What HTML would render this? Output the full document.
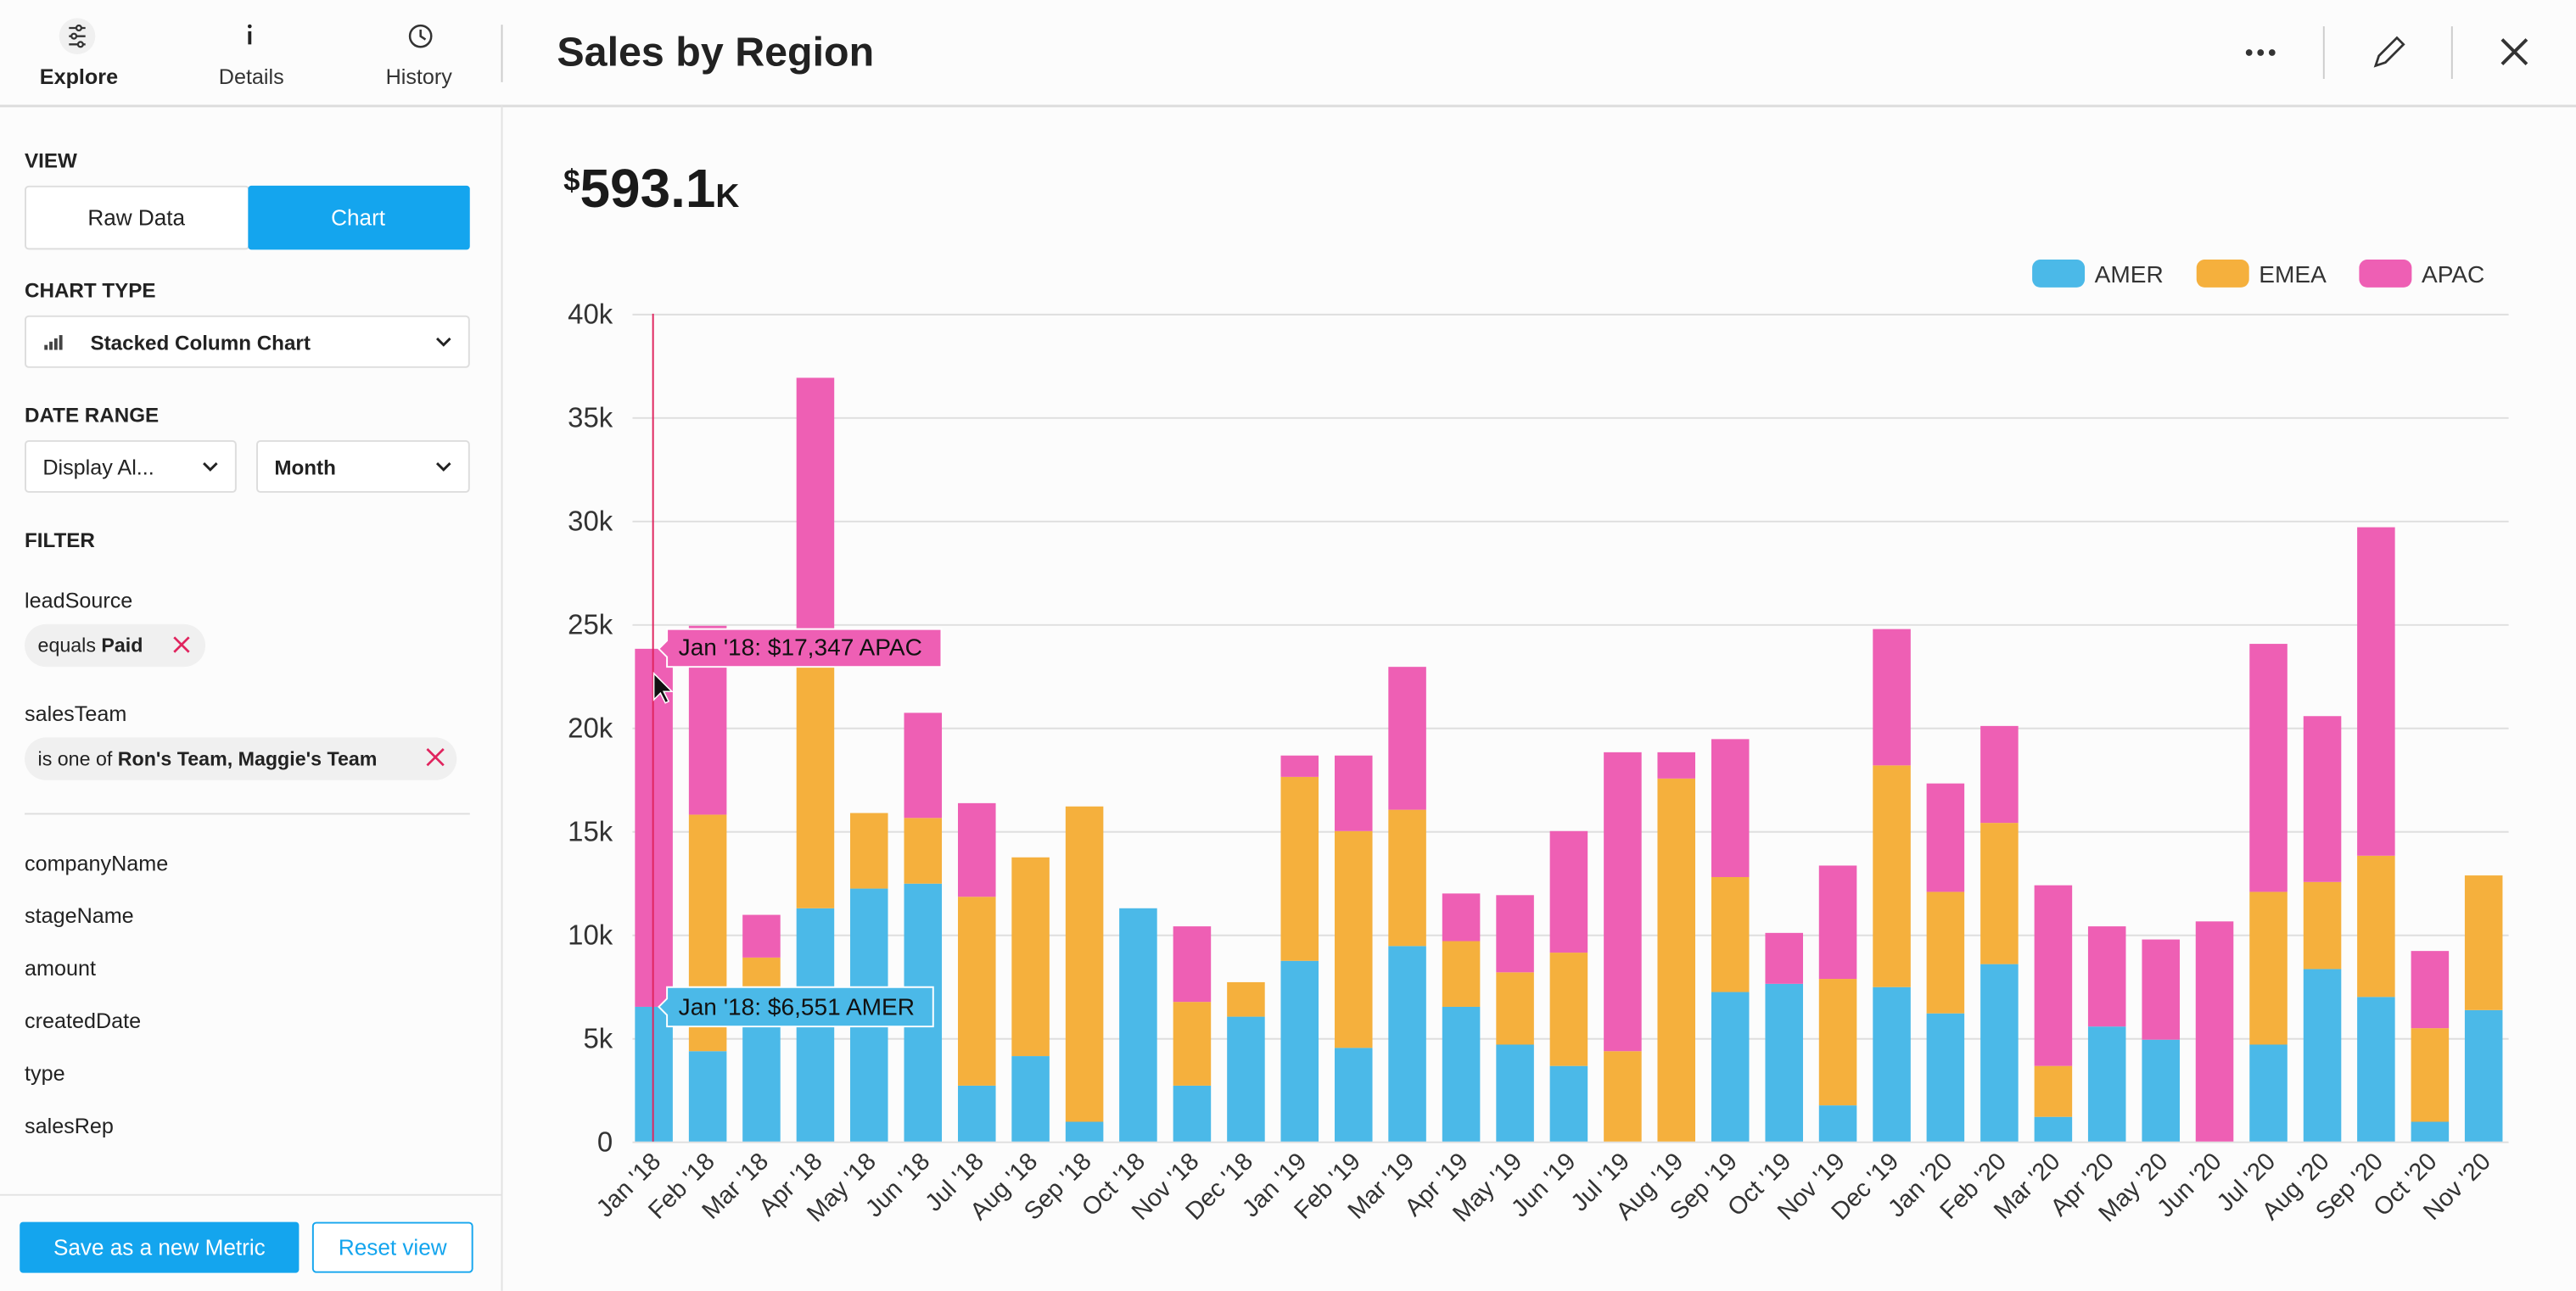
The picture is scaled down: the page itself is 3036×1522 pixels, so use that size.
<!DOCTYPE html>
<html><head><meta charset="utf-8"><style>
html,body{margin:0;padding:0;background:#fcfcfc;width:3036px;height:1522px;overflow:hidden}
svg{display:block;font-family:"Liberation Sans",sans-serif}
.a{fill:#4bb9e8}.e{fill:#f5b03d}.p{fill:#ee5fb4}
</style></head><body>
<svg width="3036" height="1522" viewBox="0 0 1568 786" xmlns="http://www.w3.org/2000/svg">
<rect width="1568" height="786" fill="#fcfcfc"/>
<line x1="0" y1="64.5" x2="1568" y2="64.5" stroke="#dcdcdc" stroke-width="1.5"/>
<line x1="305.5" y1="64" x2="305.5" y2="786" stroke="#e2e2e2"/>
<line x1="305.5" y1="15" x2="305.5" y2="50" stroke="#ccc"/>
<circle cx="47" cy="22" r="11" fill="#f0f0f0"/>
<g stroke="#333" stroke-width="1.2" fill="none"><line x1="42" y1="17" x2="52" y2="17"/><line x1="42" y1="22" x2="52" y2="22"/><line x1="42" y1="27" x2="52" y2="27"/><circle cx="48" cy="17" r="1.5" fill="#fff"/><circle cx="45" cy="22" r="1.5" fill="#fff"/><circle cx="49" cy="27" r="1.5" fill="#fff"/></g>
<text x="48" y="51" font-size="13" font-weight="bold" fill="#222" text-anchor="middle">Explore</text>
<rect x="151" y="19" width="2" height="8" fill="#222"/><circle cx="152" cy="16" r="1.2" fill="#222"/>
<text x="153" y="51" font-size="13" fill="#333" text-anchor="middle">Details</text>
<circle cx="256" cy="22" r="6.5" fill="none" stroke="#333" stroke-width="1.3"/><path d="M256 18v4l3 2" stroke="#333" stroke-width="1.3" fill="none"/>
<text x="255" y="51" font-size="13" fill="#333" text-anchor="middle">History</text>
<text x="339" y="40" font-size="25" font-weight="bold" fill="#222">Sales by Region</text>
<circle cx="1369" cy="32" r="2" fill="#333"/><circle cx="1376" cy="32" r="2" fill="#333"/><circle cx="1383" cy="32" r="2" fill="#333"/>
<line x1="1414.5" y1="16" x2="1414.5" y2="48" stroke="#ccc"/>
<path d="M1446 40l2-6 11-11 4 4-11 11z" fill="none" stroke="#333" stroke-width="1.4"/>
<line x1="1492.5" y1="16" x2="1492.5" y2="48" stroke="#ccc"/>
<path d="M1523 24l15 15M1538 24l-15 15" stroke="#333" stroke-width="2"/>
<g font-size="12.5" fill="#222">
<text x="15" y="102" font-weight="bold">VIEW</text>
<rect x="15.5" y="113.5" width="136" height="38" fill="#fff" stroke="#ddd" rx="2"/>
<text x="83" y="137" text-anchor="middle" font-size="13.5">Raw Data</text>
<rect x="151" y="113" width="135" height="39" fill="#14a5ee" rx="2"/>
<text x="218" y="137" text-anchor="middle" font-size="13.5" fill="#fff">Chart</text>
<text x="15" y="181" font-weight="bold">CHART TYPE</text>
<rect x="15.5" y="192.5" width="270" height="31" fill="#fff" stroke="#ddd" rx="2"/>
<g fill="#444"><rect x="27" y="210" width="2" height="3"/><rect x="30" y="208" width="2" height="5"/><rect x="33" y="206" width="2" height="7"/><rect x="36" y="204" width="2" height="9"/></g>
<text x="55" y="213" font-weight="bold" font-size="12.5">Stacked Column Chart</text>
<path d="M266 206l4 4 4-4" stroke="#222" stroke-width="1.5" fill="none"/>
<text x="15" y="257" font-weight="bold">DATE RANGE</text>
<rect x="15.5" y="268.5" width="128" height="31" fill="#fff" stroke="#ddd" rx="2"/>
<text x="26" y="289" font-size="13">Display Al...</text>
<path d="M124 282l4 4 4-4" stroke="#222" stroke-width="1.5" fill="none"/>
<rect x="156.5" y="268.5" width="129" height="31" fill="#fff" stroke="#ddd" rx="2"/>
<text x="167" y="289" font-weight="bold">Month</text>
<path d="M266 282l4 4 4-4" stroke="#222" stroke-width="1.5" fill="none"/>
<text x="15" y="333" font-weight="bold">FILTER</text>
<text x="15" y="370" font-size="13">leadSource</text>
<rect x="15" y="380" width="110" height="26" rx="13" fill="#f0f0f0"/>
<text x="23" y="397" font-size="12">equals <tspan font-weight="bold">Paid</tspan></text>
<path d="M106 388l9 9M115 388l-9 9" stroke="#e0245e" stroke-width="1.4"/>
<text x="15" y="439" font-size="13">salesTeam</text>
<rect x="15" y="449" width="263" height="26" rx="13" fill="#f0f0f0"/>
<text x="23" y="466" font-size="12">is one of <tspan font-weight="bold">Ron's Team, Maggie's Team</tspan></text>
<path d="M260 456l10 10M270 456l-10 10" stroke="#e0245e" stroke-width="1.4"/>
<line x1="15" y1="495.5" x2="286" y2="495.5" stroke="#ddd"/>
<text x="15" y="530" font-size="13">companyName</text>
<text x="15" y="562" font-size="13">stageName</text>
<text x="15" y="594" font-size="13">amount</text>
<text x="15" y="626" font-size="13">createdDate</text>
<text x="15" y="658" font-size="13">type</text>
<text x="15" y="690" font-size="13">salesRep</text>
</g>
<line x1="0" y1="727.5" x2="305" y2="727.5" stroke="#e2e2e2"/>
<rect x="12" y="744" width="170" height="31" rx="2" fill="#14a5ee"/>
<text x="97" y="764" font-size="13.5" fill="#fff" text-anchor="middle">Save as a new Metric</text>
<rect x="190.5" y="744.5" width="97" height="30" rx="2" fill="#fff" stroke="#14a5ee"/>
<text x="239" y="764" font-size="13.5" fill="#14a5ee" text-anchor="middle">Reset view</text>
<text x="343" y="126" font-weight="bold" fill="#1a1a1a"><tspan font-size="18" dy="-10">$</tspan><tspan font-size="33" dy="10">593.1</tspan><tspan font-size="20">K</tspan></text>
<rect x="1237" y="158" width="32" height="17" rx="5" fill="#4bb9e8"/><text x="1275" y="172" font-size="14.5" fill="#333">AMER</text>
<rect x="1337" y="158" width="32" height="17" rx="5" fill="#f5b03d"/><text x="1375" y="172" font-size="14.5" fill="#333">EMEA</text>
<rect x="1436" y="158" width="32" height="17" rx="5" fill="#ee5fb4"/><text x="1474" y="172" font-size="14.5" fill="#333">APAC</text>
<g stroke="#dedede" stroke-width="1">
<line x1="385" y1="191.5" x2="1527" y2="191.5"/><line x1="385" y1="254.5" x2="1527" y2="254.5"/><line x1="385" y1="317.5" x2="1527" y2="317.5"/><line x1="385" y1="380.5" x2="1527" y2="380.5"/><line x1="385" y1="443.5" x2="1527" y2="443.5"/><line x1="385" y1="506.5" x2="1527" y2="506.5"/><line x1="385" y1="569.5" x2="1527" y2="569.5"/><line x1="385" y1="632.5" x2="1527" y2="632.5"/><line x1="385" y1="695.5" x2="1527" y2="695.5"/>
</g>
<g font-size="17" fill="#333" text-anchor="end">
<text x="373" y="197">40k</text><text x="373" y="260">35k</text><text x="373" y="323">30k</text><text x="373" y="386">25k</text><text x="373" y="449">20k</text><text x="373" y="512">15k</text><text x="373" y="575">10k</text><text x="373" y="638">5k</text><text x="373" y="701">0</text>
</g>
<g>
<rect class="a" x="386.5" y="613" width="23" height="82"/><rect class="p" x="386.5" y="395" width="23" height="218"/>
<rect class="a" x="419.3" y="640" width="23" height="55"/><rect class="e" x="419.3" y="496" width="23" height="144"/><rect class="p" x="419.3" y="381" width="23" height="115"/>
<rect class="a" x="452" y="610" width="23" height="85"/><rect class="e" x="452" y="583" width="23" height="27"/><rect class="p" x="452" y="557" width="23" height="26"/>
<rect class="a" x="484.8" y="553" width="23" height="142"/><rect class="e" x="484.8" y="405" width="23" height="148"/><rect class="p" x="484.8" y="230" width="23" height="175"/>
<rect class="a" x="517.5" y="541" width="23" height="154"/><rect class="e" x="517.5" y="495" width="23" height="46"/>
<rect class="a" x="550.3" y="538" width="23" height="157"/><rect class="e" x="550.3" y="498" width="23" height="40"/><rect class="p" x="550.3" y="434" width="23" height="64"/>
<rect class="a" x="583.1" y="661" width="23" height="34"/><rect class="e" x="583.1" y="546" width="23" height="115"/><rect class="p" x="583.1" y="489" width="23" height="57"/>
<rect class="a" x="615.8" y="643" width="23" height="52"/><rect class="e" x="615.8" y="522" width="23" height="121"/>
<rect class="a" x="648.6" y="683" width="23" height="12"/><rect class="e" x="648.6" y="491" width="23" height="192"/>
<rect class="a" x="681.3" y="553" width="23" height="142"/>
<rect class="a" x="714.1" y="661" width="23" height="34"/><rect class="e" x="714.1" y="610" width="23" height="51"/><rect class="p" x="714.1" y="564" width="23" height="46"/>
<rect class="a" x="746.9" y="619" width="23" height="76"/><rect class="e" x="746.9" y="598" width="23" height="21"/>
<rect class="a" x="779.6" y="585" width="23" height="110"/><rect class="e" x="779.6" y="473" width="23" height="112"/><rect class="p" x="779.6" y="460" width="23" height="13"/>
<rect class="a" x="812.4" y="638" width="23" height="57"/><rect class="e" x="812.4" y="506" width="23" height="132"/><rect class="p" x="812.4" y="460" width="23" height="46"/>
<rect class="a" x="845.1" y="576" width="23" height="119"/><rect class="e" x="845.1" y="493" width="23" height="83"/><rect class="p" x="845.1" y="406" width="23" height="87"/>
<rect class="a" x="877.9" y="613" width="23" height="82"/><rect class="e" x="877.9" y="573" width="23" height="40"/><rect class="p" x="877.9" y="544" width="23" height="29"/>
<rect class="a" x="910.7" y="636" width="23" height="59"/><rect class="e" x="910.7" y="592" width="23" height="44"/><rect class="p" x="910.7" y="545" width="23" height="47"/>
<rect class="a" x="943.4" y="649" width="23" height="46"/><rect class="e" x="943.4" y="580" width="23" height="69"/><rect class="p" x="943.4" y="506" width="23" height="74"/>
<rect class="e" x="976.2" y="640" width="23" height="55"/><rect class="p" x="976.2" y="458" width="23" height="182"/>
<rect class="e" x="1008.9" y="474" width="23" height="221"/><rect class="p" x="1008.9" y="458" width="23" height="16"/>
<rect class="a" x="1041.7" y="604" width="23" height="91"/><rect class="e" x="1041.7" y="534" width="23" height="70"/><rect class="p" x="1041.7" y="450" width="23" height="84"/>
<rect class="a" x="1074.5" y="599" width="23" height="96"/><rect class="p" x="1074.5" y="568" width="23" height="31"/>
<rect class="a" x="1107.2" y="673" width="23" height="22"/><rect class="e" x="1107.2" y="596" width="23" height="77"/><rect class="p" x="1107.2" y="527" width="23" height="69"/>
<rect class="a" x="1140" y="601" width="23" height="94"/><rect class="e" x="1140" y="466" width="23" height="135"/><rect class="p" x="1140" y="383" width="23" height="83"/>
<rect class="a" x="1172.7" y="617" width="23" height="78"/><rect class="e" x="1172.7" y="543" width="23" height="74"/><rect class="p" x="1172.7" y="477" width="23" height="66"/>
<rect class="a" x="1205.5" y="587" width="23" height="108"/><rect class="e" x="1205.5" y="501" width="23" height="86"/><rect class="p" x="1205.5" y="442" width="23" height="59"/>
<rect class="a" x="1238.3" y="680" width="23" height="15"/><rect class="e" x="1238.3" y="649" width="23" height="31"/><rect class="p" x="1238.3" y="539" width="23" height="110"/>
<rect class="a" x="1271" y="625" width="23" height="70"/><rect class="p" x="1271" y="564" width="23" height="61"/>
<rect class="a" x="1303.8" y="633" width="23" height="62"/><rect class="p" x="1303.8" y="572" width="23" height="61"/>
<rect class="p" x="1336.5" y="561" width="23" height="134"/>
<rect class="a" x="1369.3" y="636" width="23" height="59"/><rect class="e" x="1369.3" y="543" width="23" height="93"/><rect class="p" x="1369.3" y="392" width="23" height="151"/>
<rect class="a" x="1402.1" y="590" width="23" height="105"/><rect class="e" x="1402.1" y="537" width="23" height="53"/><rect class="p" x="1402.1" y="436" width="23" height="101"/>
<rect class="a" x="1434.8" y="607" width="23" height="88"/><rect class="e" x="1434.8" y="521" width="23" height="86"/><rect class="p" x="1434.8" y="321" width="23" height="200"/>
<rect class="a" x="1467.6" y="683" width="23" height="12"/><rect class="e" x="1467.6" y="626" width="23" height="57"/><rect class="p" x="1467.6" y="579" width="23" height="47"/>
<rect class="a" x="1500.3" y="615" width="23" height="80"/><rect class="e" x="1500.3" y="533" width="23" height="82"/>
</g>
<g font-size="15" fill="#333" text-anchor="end">
<text transform="translate(403,708) rotate(-45)">Jan '18</text>
<text transform="translate(435.8,708) rotate(-45)">Feb '18</text>
<text transform="translate(468.5,708) rotate(-45)">Mar '18</text>
<text transform="translate(501.3,708) rotate(-45)">Apr '18</text>
<text transform="translate(534,708) rotate(-45)">May '18</text>
<text transform="translate(566.8,708) rotate(-45)">Jun '18</text>
<text transform="translate(599.6,708) rotate(-45)">Jul '18</text>
<text transform="translate(632.3,708) rotate(-45)">Aug '18</text>
<text transform="translate(665.1,708) rotate(-45)">Sep '18</text>
<text transform="translate(697.8,708) rotate(-45)">Oct '18</text>
<text transform="translate(730.6,708) rotate(-45)">Nov '18</text>
<text transform="translate(763.4,708) rotate(-45)">Dec '18</text>
<text transform="translate(796.1,708) rotate(-45)">Jan '19</text>
<text transform="translate(828.9,708) rotate(-45)">Feb '19</text>
<text transform="translate(861.6,708) rotate(-45)">Mar '19</text>
<text transform="translate(894.4,708) rotate(-45)">Apr '19</text>
<text transform="translate(927.2,708) rotate(-45)">May '19</text>
<text transform="translate(959.9,708) rotate(-45)">Jun '19</text>
<text transform="translate(992.7,708) rotate(-45)">Jul '19</text>
<text transform="translate(1025.4,708) rotate(-45)">Aug '19</text>
<text transform="translate(1058.2,708) rotate(-45)">Sep '19</text>
<text transform="translate(1091,708) rotate(-45)">Oct '19</text>
<text transform="translate(1123.7,708) rotate(-45)">Nov '19</text>
<text transform="translate(1156.5,708) rotate(-45)">Dec '19</text>
<text transform="translate(1189.2,708) rotate(-45)">Jan '20</text>
<text transform="translate(1222,708) rotate(-45)">Feb '20</text>
<text transform="translate(1254.8,708) rotate(-45)">Mar '20</text>
<text transform="translate(1287.5,708) rotate(-45)">Apr '20</text>
<text transform="translate(1320.3,708) rotate(-45)">May '20</text>
<text transform="translate(1353,708) rotate(-45)">Jun '20</text>
<text transform="translate(1385.8,708) rotate(-45)">Jul '20</text>
<text transform="translate(1418.6,708) rotate(-45)">Aug '20</text>
<text transform="translate(1451.3,708) rotate(-45)">Sep '20</text>
<text transform="translate(1484.1,708) rotate(-45)">Oct '20</text>
<text transform="translate(1516.8,708) rotate(-45)">Nov '20</text>
</g>
<line x1="397.5" y1="191" x2="397.5" y2="695" stroke="#e0245e" stroke-width="1"/>
<path d="M406 383h167v23h-167v-6l-5-5 5-5z" fill="#ee5fb4" stroke="#fff" stroke-width="1"/>
<text x="413" y="399" font-size="14.5" fill="#111">Jan '18: $17,347 APAC</text>
<path d="M406 601h162v24h-162v-7l-5-5 5-5z" fill="#4bb9e8" stroke="#fff" stroke-width="1"/>
<text x="413" y="618" font-size="14.5" fill="#111">Jan '18: $6,551 AMER</text>
<path d="M398 410v16l4-4 3 6 2-1-3-6h5z" fill="#111" stroke="#fff" stroke-width="0.8"/>
</svg>
</body></html>
